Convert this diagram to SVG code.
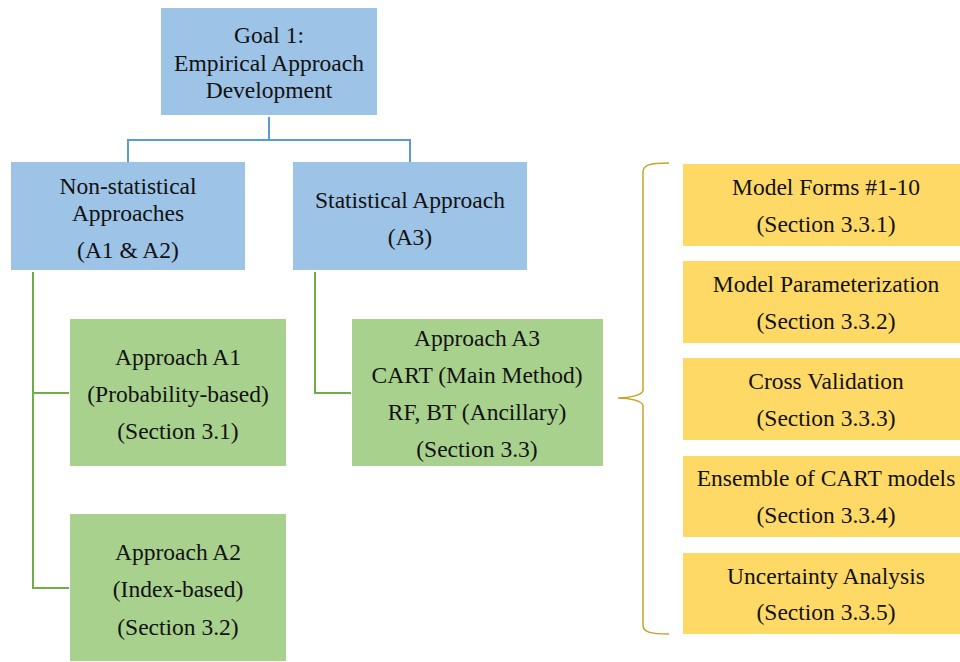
<svg xmlns="http://www.w3.org/2000/svg" width="960" height="662" viewBox="0 0 960 662">
<style>
text{font-family:"Liberation Serif","Times New Roman",serif;font-size:23.5px;fill:#111;text-anchor:middle}
.blue{fill:#9DC3E6}
.green{fill:#A9D18E}
.yellow{fill:#FFD966}
.cb{fill:none;stroke:#5B9BD5;stroke-width:2}
.cg{fill:none;stroke:#70AD47;stroke-width:2}
.br{fill:none;stroke:#C9A227;stroke-width:1.5}
</style>
<rect width="960" height="662" fill="#fff"/>
<g id="connectors">
<path class="cb" d="M269 117V140M128 162V140H410V162"/>
<path class="cg" d="M33 272V588H69M33 393H69"/>
<path class="cg" d="M315 272V393H351"/>
<path class="br" d="M669 163C650 163 643 165 643 172V390C643 395 630 398 618 398C630 398 643 401 643 406V625C643 632 650 634 669 634"/>
</g>
<g id="goal"><rect class="blue" x="161" y="8" width="216" height="107"/>
<text x="269" y="43">Goal 1:</text><text x="269" y="71">Empirical Approach</text><text x="269" y="98">Development</text></g>
<g id="nonstat"><rect class="blue" x="11" y="162" width="234" height="108"/>
<text x="128" y="194">Non-statistical</text><text x="128" y="221">Approaches</text><text x="128" y="258">(A1 &amp; A2)</text></g>
<g id="stat"><rect class="blue" x="293" y="162" width="234" height="108"/>
<text x="410" y="208">Statistical Approach</text><text x="410" y="245">(A3)</text></g>
<g id="a1"><rect class="green" x="70" y="319" width="216" height="147"/>
<text x="178" y="365">Approach A1</text><text x="178" y="402">(Probability-based)</text><text x="178" y="439">(Section 3.1)</text></g>
<g id="a2"><rect class="green" x="70" y="514" width="216" height="147"/>
<text x="178" y="560">Approach A2</text><text x="178" y="597">(Index-based)</text><text x="178" y="635">(Section 3.2)</text></g>
<g id="a3"><rect class="green" x="352" y="319" width="251" height="147"/>
<text x="477" y="346">Approach A3</text><text x="477" y="383">CART (Main Method)</text><text x="477" y="420">RF, BT (Ancillary)</text><text x="477" y="457">(Section 3.3)</text></g>
<g id="y1"><rect class="yellow" x="683" y="164" width="277" height="82"/>
<text x="826" y="195">Model Forms #1-10</text><text x="826" y="232">(Section 3.3.1)</text></g>
<g id="y2"><rect class="yellow" x="683" y="261" width="277" height="82"/>
<text x="826" y="292">Model Parameterization</text><text x="826" y="329">(Section 3.3.2)</text></g>
<g id="y3"><rect class="yellow" x="683" y="358" width="277" height="82"/>
<text x="826" y="389">Cross Validation</text><text x="826" y="426">(Section 3.3.3)</text></g>
<g id="y4"><rect class="yellow" x="683" y="456" width="277" height="81"/>
<text x="826" y="486">Ensemble of CART models</text><text x="826" y="523">(Section 3.3.4)</text></g>
<g id="y5"><rect class="yellow" x="683" y="553" width="277" height="81"/>
<text x="826" y="584">Uncertainty Analysis</text><text x="826" y="620">(Section 3.3.5)</text></g>
</svg>
